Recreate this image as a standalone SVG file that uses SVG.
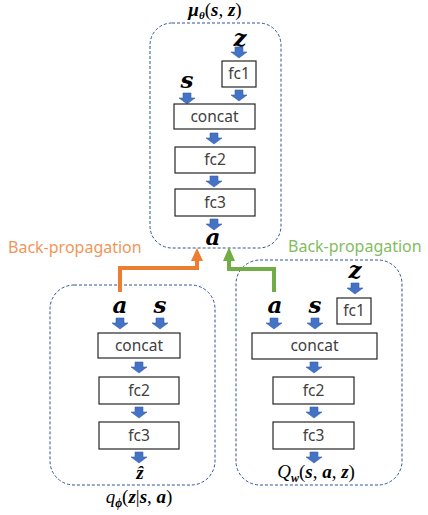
<svg xmlns="http://www.w3.org/2000/svg" width="428" height="515" viewBox="0 0 428 515">
<style>
.cont{fill:none;stroke:#2F5597;stroke-width:1;stroke-dasharray:3 2}
.box{fill:#fff;stroke:#262626;stroke-width:1.2}
.lbl{font-family:"Noto Sans","DejaVu Sans",sans-serif;font-size:15.5px;fill:#404040;text-anchor:middle}
.m{font-family:"DejaVu Serif","Liberation Serif",serif;font-weight:bold;font-style:italic;font-size:23px;fill:#000;text-anchor:middle}
.eq{font-family:"Liberation Serif","DejaVu Serif",serif;font-size:19px;fill:#000;text-anchor:middle}
.b{font-weight:bold;font-style:italic}
.i{font-style:italic}
.bp{font-family:"Noto Sans","DejaVu Sans",sans-serif;font-size:16px}
</style>
<defs>
<path id="arr" d="M-4,0 H4 V5 H8 L0,11 L-8,5 H-4 Z" fill="#4472C4" stroke="#3A62A8" stroke-width="0.6"/>
</defs>

<g id="mu">
<rect class="cont" x="150" y="23" width="131" height="225" rx="22"/>
<text class="eq" x="215" y="16" font-size="18"><tspan class="b">μ</tspan><tspan class="b" font-size="11" dy="3">θ</tspan><tspan dy="-3">(</tspan><tspan class="b">s</tspan>, <tspan class="b">z</tspan>)</text>
<text class="m" x="240" y="46">z</text>
<use href="#arr" x="239" y="47"/>
<rect class="box" x="222" y="61" width="34" height="26"/>
<text class="lbl" x="239" y="79">fc1</text>
<use href="#arr" x="239" y="90"/>
<text class="m" x="187" y="88">s</text>
<use href="#arr" x="187" y="93"/>
<rect class="box" x="174" y="104" width="81" height="25"/>
<text class="lbl" x="214.5" y="122">concat</text>
<use href="#arr" x="214" y="133"/>
<rect class="box" x="175" y="147" width="80" height="26"/>
<text class="lbl" x="215" y="165">fc2</text>
<use href="#arr" x="214" y="176"/>
<rect class="box" x="175" y="189" width="80" height="27"/>
<text class="lbl" x="215" y="208">fc3</text>
<use href="#arr" x="214" y="219"/>
<text class="m" x="213" y="245">a</text>
</g>

<g id="q">
<rect class="cont" x="50" y="285" width="165" height="200" rx="24"/>
<text class="m" x="120" y="313">a</text>
<text class="m" x="160" y="313">s</text>
<use href="#arr" x="120" y="318"/>
<use href="#arr" x="160" y="318"/>
<rect class="box" x="98" y="333" width="82" height="25"/>
<text class="lbl" x="139" y="351">concat</text>
<use href="#arr" x="139" y="362"/>
<rect class="box" x="99" y="377" width="80" height="27"/>
<text class="lbl" x="139" y="396">fc2</text>
<use href="#arr" x="139" y="407"/>
<rect class="box" x="99" y="422" width="80" height="27"/>
<text class="lbl" x="139" y="441">fc3</text>
<use href="#arr" x="139" y="452"/>
<text class="eq" x="140" y="479" font-size="20"><tspan class="b">ẑ</tspan></text>
<text class="eq" x="139" y="503"><tspan class="i">q</tspan><tspan class="b" font-size="12" dy="4">ϕ</tspan><tspan dy="-4">(</tspan><tspan class="b">z</tspan>|<tspan class="b">s</tspan>, <tspan class="b">a</tspan>)</text>
</g>

<g id="Q">
<rect class="cont" x="236" y="260" width="166" height="225" rx="24"/>
<text class="m" x="355" y="278">z</text>
<use href="#arr" x="355" y="283"/>
<rect class="box" x="337" y="298" width="34" height="26"/>
<text class="lbl" x="354" y="316">fc1</text>
<text class="m" x="275" y="313">a</text>
<text class="m" x="315" y="313">s</text>
<use href="#arr" x="274" y="318"/>
<use href="#arr" x="315" y="318"/>
<rect class="box" x="252" y="333" width="125" height="26"/>
<text class="lbl" x="314.5" y="351">concat</text>
<use href="#arr" x="314" y="362"/>
<rect class="box" x="273" y="377" width="81" height="27"/>
<text class="lbl" x="313.5" y="396">fc2</text>
<use href="#arr" x="314" y="407"/>
<rect class="box" x="273" y="422" width="81" height="27"/>
<text class="lbl" x="313.5" y="441">fc3</text>
<use href="#arr" x="314" y="452"/>
<text class="eq" x="316" y="478"><tspan class="i">Q</tspan><tspan class="b" font-size="12" dy="4">w</tspan><tspan dy="-4">(</tspan><tspan class="b">s</tspan>, <tspan class="b">a</tspan>, <tspan class="b">z</tspan>)</text>
</g>

<g id="connectors">
<polyline points="120,292 120,268 197,268 197,259" fill="none" stroke="#ED7D31" stroke-width="4"/>
<polygon points="191,261 203,261 197,248" fill="#ED7D31"/>
<polyline points="274,292 274,269 229,269 229,259" fill="none" stroke="#70AD47" stroke-width="4"/>
<polygon points="223,261 235,261 229,247" fill="#70AD47"/>
<text class="bp" x="8" y="253" fill="#F0965A">Back-propagation</text>
<text class="bp" x="288" y="252" fill="#82BC5E">Back-propagation</text>
</g>
</svg>
